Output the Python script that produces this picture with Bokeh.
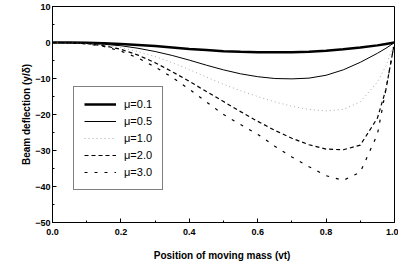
from bokeh.plotting import figure
from bokeh.models import Legend, LegendItem, FixedTicker, Range1d
from bokeh.embed import file_html
from bokeh.resources import INLINE

# Data
x_pos = [0.0, 0.05, 0.1, 0.15, 0.2, 0.25, 0.3, 0.35, 0.4, 0.45, 0.5, 0.55,
         0.6, 0.65, 0.7, 0.75, 0.8, 0.85, 0.9, 0.95, 0.975, 1.0]
mu_01 = [0, 0, -0.1, -0.2, -0.4, -0.7, -1.0, -1.4, -1.8, -2.1, -2.4, -2.6,
         -2.7, -2.7, -2.7, -2.6, -2.3, -1.9, -1.4, -0.8, -0.4, 0]
mu_05 = [0, -0.05, -0.2, -0.5, -0.9, -1.6, -2.5, -3.6, -4.9, -6.3, -7.6, -8.7,
         -9.5, -10.0, -10.1, -9.9, -9.1, -7.6, -5.5, -3.0, -1.6, 0]
mu_10 = [0, -0.1, -0.3, -0.7, -1.4, -2.5, -3.9, -5.6, -7.5, -9.6, -11.6, -13.4,
         -15.0, -16.5, -17.7, -18.6, -19.0, -18.6, -16.5, -11.0, -6.5, 0]
mu_20 = [0, -0.1, -0.3, -0.9, -1.9, -3.5, -5.6, -8.1, -10.8, -13.6, -16.4, -19.2,
         -21.9, -24.4, -26.6, -28.4, -29.6, -29.8, -28.5, -21.0, -13.0, 0]
mu_30 = [0, -0.1, -0.4, -1.1, -2.4, -4.3, -6.8, -9.7, -13.0, -16.5, -20.0, -22.8,
         -25.5, -28.8, -31.8, -34.5, -37.0, -38.3, -36.0, -25.5, -13.0, 0]
labels = ["\u03bc=0.1", "\u03bc=0.5", "\u03bc=1.0", "\u03bc=2.0", "\u03bc=3.0"]
x_ticks = [0.0, 0.2, 0.4, 0.6, 0.8, 1.0]
y_ticks = [10, 0, -10, -20, -30, -40, -50]

p = figure(width=398, height=263, output_backend="svg", toolbar_location=None,
           x_range=Range1d(0, 1.0), y_range=Range1d(-50, 10),
           min_border_left=52, min_border_right=4, min_border_top=6,
           min_border_bottom=35)
p.background_fill_color = "white"
p.border_fill_color = "white"
p.outline_line_color = "black"
p.outline_line_width = 1
p.xgrid.visible = False
p.ygrid.visible = False

r1 = p.line(x_pos, mu_01, line_color="black", line_width=2.5)
r2 = p.line(x_pos, mu_05, line_color="black", line_width=1)
r3 = p.line(x_pos, mu_10, line_color="#aaaaaa", line_width=1, line_dash="1 3")
r4 = p.line(x_pos, mu_20, line_color="black", line_width=1.2, line_dash="4 3")
r5 = p.line(x_pos, mu_30, line_color="black", line_width=1.2, line_dash="3 7")

legend = Legend(items=[LegendItem(label=l, renderers=[r]) for l, r in
                       zip(labels, [r1, r2, r3, r4, r5])],
                location=(21, 32))
legend.border_line_color = "black"
legend.border_line_width = 1
legend.background_fill_alpha = 1
legend.label_text_font = "Liberation Sans"
legend.label_text_font_size = "11px"
legend.label_text_color = "black"
legend.glyph_width = 32
legend.glyph_height = 14
legend.label_height = 14
legend.label_standoff = 8
legend.spacing = 3
legend.padding = 10
legend.margin = 0
p.add_layout(legend, "center")

for ax in (p.xaxis[0], p.yaxis[0]):
    ax.axis_line_color = "black"
    ax.major_tick_line_color = "black"
    ax.minor_tick_line_color = "black"
    ax.major_tick_in = 4
    ax.major_tick_out = 0
    ax.minor_tick_in = 2
    ax.minor_tick_out = 0
    ax.major_label_text_font = "Liberation Sans"
    ax.major_label_text_font_style = "bold"
    ax.major_label_text_font_size = "9px"
    ax.major_label_text_color = "black"
    ax.axis_label_text_font = "Liberation Sans"
    ax.axis_label_text_font_style = "bold"
    ax.axis_label_text_font_size = "10px"
    ax.axis_label_text_color = "black"

p.xaxis.ticker = FixedTicker(ticks=x_ticks, minor_ticks=[0.1, 0.3, 0.5, 0.7, 0.9])
p.xaxis.major_label_overrides = {t: f"{t:.1f}" for t in x_ticks}
p.yaxis.ticker = FixedTicker(ticks=y_ticks, minor_ticks=[5, -5, -15, -25, -35, -45])
p.xaxis.axis_label = "Position of moving mass  (vt)"
p.yaxis.axis_label = "Beam deflection (y/\u03b4)"
p.xaxis.major_label_standoff = 6
p.xaxis.axis_label_standoff = 12
p.yaxis.major_label_standoff = 2
p.yaxis.axis_label_standoff = 0

open("out.html", "w").write(file_html(p, INLINE))
